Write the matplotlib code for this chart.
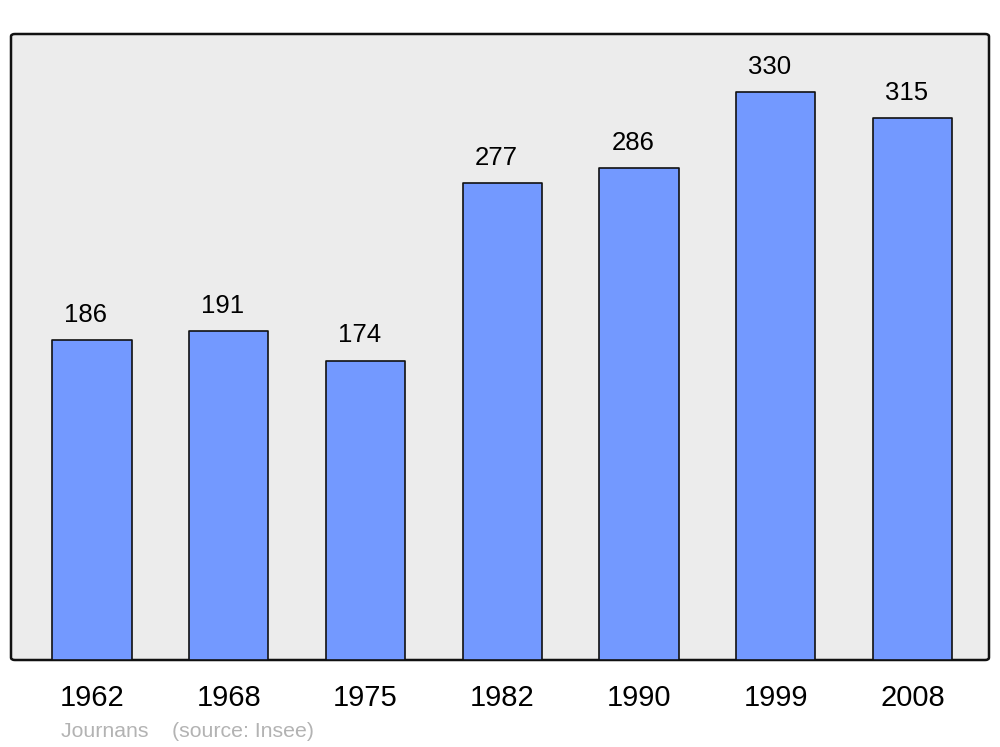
import matplotlib.pyplot as plt
from matplotlib.patches import FancyBboxPatch

years = ["1962", "1968", "1975", "1982", "1990", "1999", "2008"]
population = [186, 191, 174, 277, 286, 330, 315]

plt.rcParams['font.family'] = ['Liberation Sans', 'DejaVu Sans']

fig = plt.figure(figsize=(10, 7.47), dpi=100)
ax = fig.add_axes([0.011, 87 / 747, 0.978, 626 / 747])

ax.patch.set_visible(False)
for s in ax.spines.values():
    s.set_visible(False)

frame = FancyBboxPatch((0, 0), 1, 1, boxstyle="round,pad=0,rounding_size=0.004",
                       transform=ax.transAxes, facecolor="#ececec",
                       edgecolor="#111111", linewidth=1.8, zorder=0, clip_on=False)
ax.add_patch(frame)

x = list(range(len(years)))
bars = ax.bar(x, population, width=0.58, color="#7399ff", edgecolor="#111111",
              linewidth=1.2, zorder=2)
for b in bars:
    b.set_joinstyle("round")

for xi, v in zip(x, population):
    ax.annotate(str(v), (xi, v), xytext=(-4.5, 13), textcoords="offset points",
                ha="center", va="baseline", fontsize=18.5, color="black")

ax.set_xlim(-0.592, 6.559)
ax.set_ylim(0, 363.7)
ax.set_yticks([])
ax.set_xticks(x)
ax.set_xticklabels(years, fontsize=21)
ax.tick_params(axis="x", length=0, pad=17)

fig.text(61, 747 - 737, "Journans    (source: Insee)", transform=None,
         fontsize=15.3, color="#b3b3b3", ha="left", va="baseline")

fig.savefig("out.png", dpi=100)
